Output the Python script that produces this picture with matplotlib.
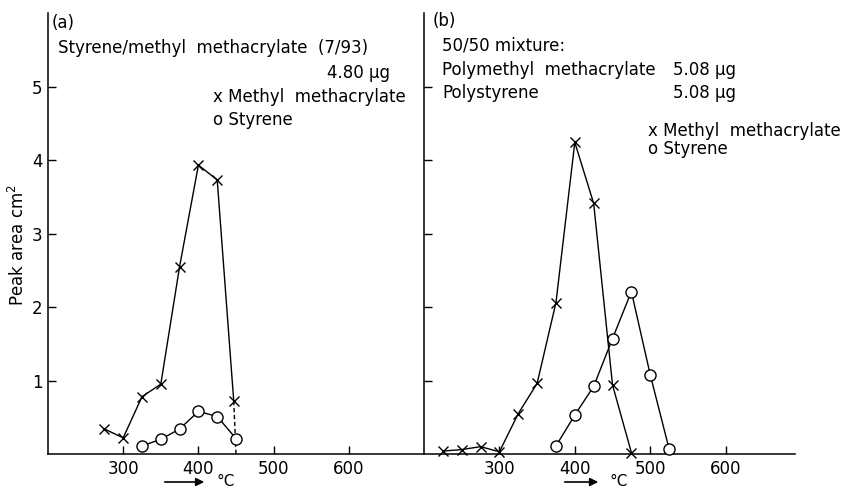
import matplotlib
matplotlib.use("Agg")
import matplotlib.pyplot as plt

# ---- data (a): styrene/methyl methacrylate copolymer (7/93) ----
a_mma_T = [275, 300, 325, 350, 375, 400, 425, 447]
a_mma_A = [0.34, 0.22, 0.78, 0.95, 2.55, 3.93, 3.73, 0.72]
a_mma_ext_T = [447, 450]
a_mma_ext_A = [0.72, 0.0]
a_sty_T = [325, 350, 375, 400, 425, 450]
a_sty_A = [0.11, 0.20, 0.34, 0.58, 0.51, 0.21]

# ---- data (b): 50/50 mixture ----
b_mma_T = [225, 250, 275, 300, 325, 350, 375, 400, 425, 450, 475]
b_mma_A = [0.04, 0.06, 0.10, 0.03, 0.55, 0.96, 2.06, 4.24, 3.41, 0.94, 0.02]
b_sty_T = [375, 400, 425, 450, 475, 500, 525]
b_sty_A = [0.11, 0.53, 0.92, 1.57, 2.21, 1.08, 0.07]

x_ticks = [300, 400, 500, 600]
y_ticks = [1, 2, 3, 4, 5]

W, H = 846, 490
fig = plt.figure(figsize=(W / 100, H / 100), dpi=100)
FS = 12

def fx(px):
    return px / W

def fy(py):
    return 1 - py / H

ax1 = fig.add_axes([fx(48), 36 / H, 376 / W, 441 / H])
ax2 = fig.add_axes([fx(424), 36 / H, 371 / W, 441 / H])

lw = 1.0
for ax in (ax1, ax2):
    ax.set_ylim(0, 6)
    ax.spines['top'].set_visible(False)
    ax.set_xticks(x_ticks)
    ax.set_xticklabels([str(t) for t in x_ticks])
    ax.set_yticks(y_ticks)
    ax.tick_params(direction='in', length=6, width=1, labelsize=FS, pad=4)
    for s in ax.spines.values():
        s.set_linewidth(1.1)

ax1.set_xlim(200, 700)
ax1.spines['right'].set_visible(False)
ax1.set_yticklabels([str(t) for t in y_ticks])

ax2.set_xlim(200, 692)
ax2.spines['right'].set_visible(False)
ax2.set_yticklabels([])

mk_x = dict(color='black', lw=lw, marker='x', ms=6.5, mew=1.0)
mk_o = dict(color='black', lw=lw, marker='o', ms=8, mew=1.0, mfc='white')

ax1.plot(a_mma_T, a_mma_A, **mk_x, zorder=3)
ax1.plot(a_mma_ext_T, a_mma_ext_A, color='black', lw=lw, ls=(0, (3, 2)), zorder=2)
ax1.plot(a_sty_T, a_sty_A, **mk_o, zorder=4)

ax2.plot(b_mma_T, b_mma_A, **mk_x, zorder=3)
ax2.plot(b_sty_T, b_sty_A, **mk_o, zorder=4)

for a in (ax1, ax2):
    for ln in a.lines:
        ln.set_clip_on(False)

# ---- texts panel (a) ----
fig.text(fx(52), fy(23), "(a)", fontsize=FS, va='center', ha='left')
fig.text(fx(58), fy(48), "Styrene/methyl  methacrylate  (7/93)", fontsize=FS, va='center', ha='left')
fig.text(fx(390), fy(73), "4.80 µg", fontsize=FS, va='center', ha='right')
fig.text(fx(213), fy(97), "x Methyl  methacrylate", fontsize=FS, va='center', ha='left')
fig.text(fx(213), fy(120), "o Styrene", fontsize=FS, va='center', ha='left')

# ---- texts panel (b) ----
fig.text(fx(433), fy(21), "(b)", fontsize=FS, va='center', ha='left')
fig.text(fx(442), fy(46), "50/50 mixture:", fontsize=FS, va='center', ha='left')
fig.text(fx(442), fy(70), "Polymethyl  methacrylate", fontsize=FS, va='center', ha='left')
fig.text(fx(673), fy(70), "5.08 µg", fontsize=FS, va='center', ha='left')
fig.text(fx(442), fy(93), "Polystyrene", fontsize=FS, va='center', ha='left')
fig.text(fx(673), fy(93), "5.08 µg", fontsize=FS, va='center', ha='left')
fig.text(fx(648), fy(131), "x Methyl  methacrylate", fontsize=FS, va='center', ha='left')
fig.text(fx(648), fy(149), "o Styrene", fontsize=FS, va='center', ha='left')

# y label
fig.text(fx(18), fy(245), "Peak area cm$^2$", fontsize=FS, rotation=90, va='center', ha='center')

# arrows -> °C
for x0, x1, xt in [(162, 207, 217), (562, 601, 609)]:
    fig.add_artist(matplotlib.patches.FancyArrowPatch(
        (fx(x0), fy(482)), (fx(x1), fy(482)), transform=fig.transFigure,
        arrowstyle='-|>', mutation_scale=12, color='black', lw=1.2))
    fig.text(fx(xt), fy(481), "°C", fontsize=11, va='center', ha='left')

fig.savefig("out.png", dpi=100, facecolor='white')
